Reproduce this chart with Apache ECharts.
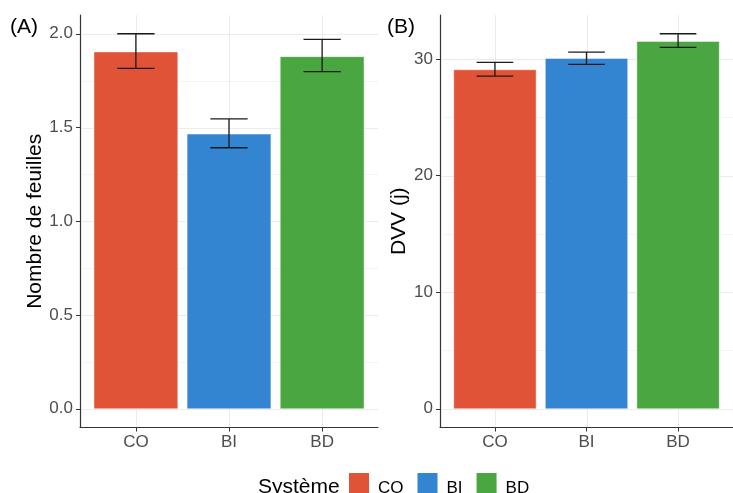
<!DOCTYPE html>
<html><head><meta charset="utf-8">
<script src="https://cdn.jsdelivr.net/npm/echarts@6/dist/echarts.min.js"></script>
<style>html,body{margin:0;padding:0;background:#fff}#c{width:733px;height:493px}</style>
</head><body><div id="c"></div>
<script>
const categories = ['CO', 'BI', 'BD'];
const colors = ['#E15336', '#3384D1', '#4AA641'];
const leafMean = [1.903, 1.465, 1.878];
const leafLow = [1.815, 1.392, 1.798];
const leafHigh = [2.000, 1.546, 1.970];
const dvvMean = [29.07, 30.04, 31.50];
const dvvLow = [28.53, 29.53, 30.99];
const dvvHigh = [29.70, 30.59, 32.16];
const leafTicks = [0, 0.5, 1.0, 1.5, 2.0];
const leafLabels = ['0.0', '0.5', '1.0', '1.5', '2.0'];
const leafMinor = [0.25, 0.75, 1.25, 1.75];
const dvvTicks = [0, 10, 20, 30];
const dvvLabels = ['0', '10', '20', '30'];
const dvvMinor = [5, 15, 25];
const legendTitle = 'Système';
const leafTitle = 'Nombre de feuilles';
const dvvTitle = 'DVV (j)';

const FONT = "'Liberation Sans', Arial, sans-serif";
const catPos = categories.map((c, i) => i + 1);

function range(high) {
  const m = Math.max(...high);
  return [-0.05 * m, 1.05 * m];
}

function hLine(color, width) {
  return function (params, api) {
    const cs = params.coordSys;
    const y = Math.round(api.coord([1, api.value(1)])[1]) + 0.5;
    return { type: 'line', shape: { x1: cs.x + 1, y1: y, x2: cs.x + cs.width, y2: y },
      style: { stroke: color, lineWidth: width } };
  };
}
function vLine(color, width) {
  return function (params, api) {
    const cs = params.coordSys;
    const x = Math.round(api.coord([api.value(0), 0])[0]) + 0.5;
    return { type: 'line', shape: { x1: x, y1: cs.y, x2: x, y2: cs.y + cs.height - 1 },
      style: { stroke: color, lineWidth: width } };
  };
}
function renderBars(params, api) {
  const x = api.value(0), m = api.value(1), lo = api.value(2), hi = api.value(3), i = api.value(4);
  const bw = api.size([0.9, 0])[0];
  const ew = api.size([0.4, 0])[0];
  const top = api.coord([x, m]);
  const base = api.coord([x, 0]);
  const pLo = api.coord([x, lo]);
  const pHi = api.coord([x, hi]);
  const ls = { stroke: '#1a1a1a', lineWidth: 1.3 };
  return { type: 'group', children: [
    { type: 'rect', shape: { x: top[0] - bw / 2, y: top[1], width: bw, height: base[1] - top[1] },
      style: { fill: colors[i], stroke: 'rgba(255,255,255,0.45)', lineWidth: 1 } },
    { type: 'line', shape: { x1: pLo[0], y1: pLo[1], x2: pHi[0], y2: pHi[1] }, style: ls },
    { type: 'line', shape: { x1: pLo[0] - ew / 2, y1: pLo[1], x2: pLo[0] + ew / 2, y2: pLo[1] }, style: ls },
    { type: 'line', shape: { x1: pHi[0] - ew / 2, y1: pHi[1], x2: pHi[0] + ew / 2, y2: pHi[1] }, style: ls }
  ] };
}

function xAxisCfg(gi) {
  return {
    gridIndex: gi, type: 'value', min: 0.4, max: 3.6,
    axisLine: { show: true, onZero: false, lineStyle: { color: '#333333', width: 1.2 } },
    axisTick: { show: true, length: 4, customValues: catPos, lineStyle: { color: '#333333' } },
    axisLabel: { customValues: catPos, formatter: v => categories[Math.round(v) - 1],
      color: '#4D4D4D', fontSize: 17, fontFamily: FONT, margin: 6 },
    splitLine: { show: false }
  };
}
function yAxisCfg(gi, high, ticks, labels, name, gap) {
  const r = range(high);
  return {
    gridIndex: gi, type: 'value', min: r[0], max: r[1],
    axisLine: { show: true, onZero: false, lineStyle: { color: '#333333', width: 1.2 } },
    axisTick: { show: true, length: 4, customValues: ticks, lineStyle: { color: '#333333' } },
    axisLabel: { customValues: ticks, formatter: v => labels[ticks.findIndex(t => Math.abs(t - v) < 1e-9)],
      color: '#4D4D4D', fontSize: 17, fontFamily: FONT, margin: 7 },
    splitLine: { show: false },
    name: name, nameLocation: 'middle', nameGap: gap,
    nameTextStyle: { fontSize: 21, color: '#000', fontFamily: FONT }
  };
}

function gridSeries(gi, major, minor) {
  return [
    { type: 'custom', xAxisIndex: gi, yAxisIndex: gi, z: 1, silent: true,
      data: minor.map(v => [1, v]), renderItem: hLine('#F3F3F3', 1) },
    { type: 'custom', xAxisIndex: gi, yAxisIndex: gi, z: 1, silent: true,
      data: major.map(v => [1, v]), renderItem: hLine('#EBEBEB', 1) },
    { type: 'custom', xAxisIndex: gi, yAxisIndex: gi, z: 1, silent: true,
      data: catPos.map(v => [v, 0]), renderItem: vLine('#EBEBEB', 1) }
  ];
}
function barSeries(gi, mean, low, high) {
  return { type: 'custom', xAxisIndex: gi, yAxisIndex: gi, z: 3, silent: true,
    encode: { x: 0, y: 1 },
    data: categories.map((c, i) => [i + 1, mean[i], low[i], high[i], i]),
    renderItem: renderBars };
}

// legend key: a 20x20 square at the top of a 20x30 box, so the label sits lower (as in the reference)
const KEY_ICON = 'path://M0,0L20,0L20,20L0,20Z M0,29.98L0.02,29.98L0.02,30L0,30Z';

const chart = echarts.init(document.getElementById('c'), null, { renderer: 'canvas' });
chart.setOption({
  animation: false,
  backgroundColor: '#ffffff',
  grid: [
    { left: 80, top: 15, width: 298, height: 412.5 },
    { left: 440, top: 15, width: 298, height: 412.5 }
  ],
  xAxis: [xAxisCfg(0), xAxisCfg(1)],
  yAxis: [
    yAxisCfg(0, leafHigh, leafTicks, leafLabels, leafTitle, 32),
    yAxisCfg(1, dvvHigh, dvvTicks, dvvLabels, dvvTitle, 28)
  ],
  legend: {
    left: 349, top: 473, padding: 0, itemWidth: 20, itemHeight: 30, itemGap: 14, icon: KEY_ICON,
    selectedMode: false,
    data: categories,
    textStyle: { fontSize: 17, color: '#000', fontFamily: FONT, padding: [0, 0, 0, 4] }
  },
  graphic: [
    { type: 'text', left: 10, top: 17, style: { text: '(A)', fontSize: 21, fill: '#000', fontFamily: FONT } },
    { type: 'text', left: 387, top: 17, style: { text: '(B)', fontSize: 21, fill: '#000', fontFamily: FONT } },
    { type: 'text', x: 258, y: 487, style: { text: legendTitle, fontSize: 21, fill: '#000', fontFamily: FONT,
      verticalAlign: 'middle', align: 'left' } }
  ],
  series: [
    ...gridSeries(0, leafTicks, leafMinor),
    ...gridSeries(1, dvvTicks, dvvMinor),
    barSeries(0, leafMean, leafLow, leafHigh),
    barSeries(1, dvvMean, dvvLow, dvvHigh),
    ...categories.map((c, i) => ({ type: 'bar', name: c, data: [], xAxisIndex: 0, yAxisIndex: 0,
      itemStyle: { color: colors[i] } }))
  ]
});
</script></body></html>
